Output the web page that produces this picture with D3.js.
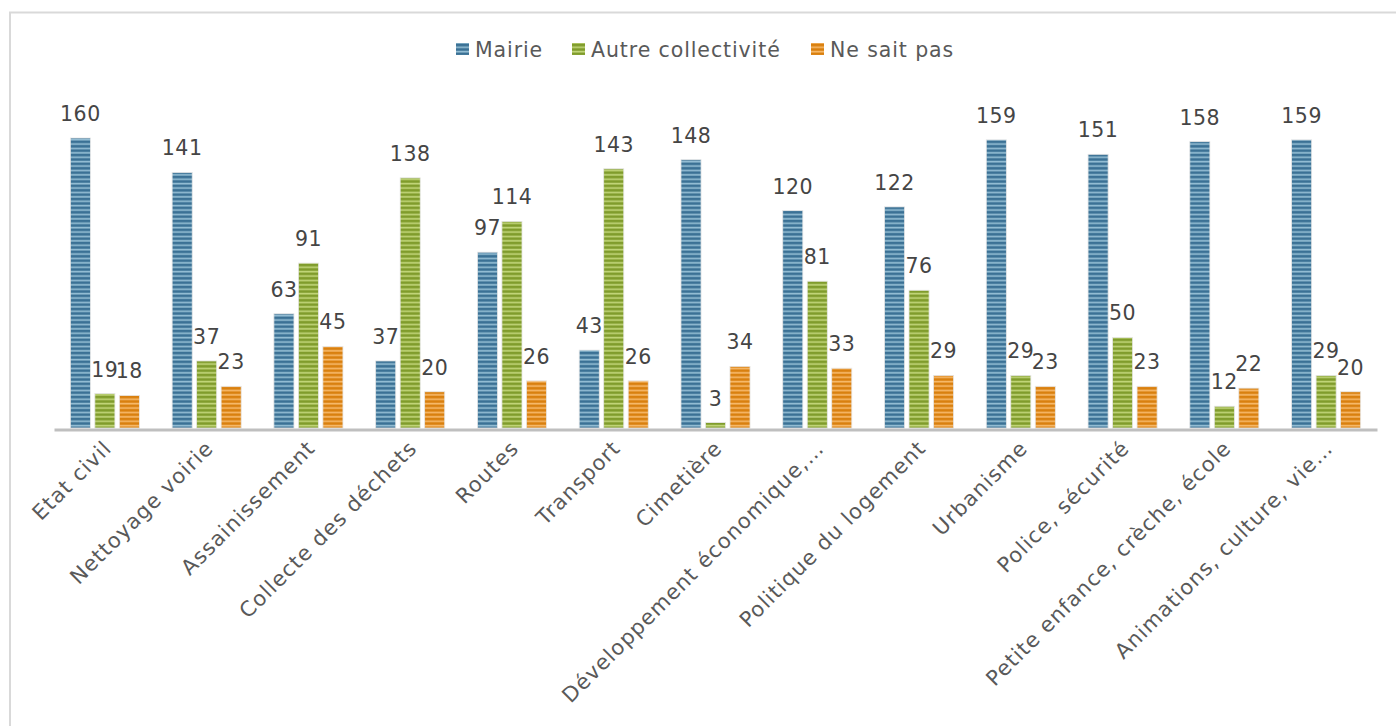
<!DOCTYPE html>
<html><head><meta charset="utf-8">
<script src="https://cdn.jsdelivr.net/npm/d3@7"></script>
<style>
html,body{margin:0;padding:0;background:#fff;}
svg{display:block;}
</style></head>
<body>
<script>
const categories = ["Etat civil","Nettoyage voirie","Assainissement","Collecte des déchets","Routes","Transport","Cimetière","Développement économique,…","Politique du logement","Urbanisme","Police, sécurité","Petite enfance, crèche, école","Animations, culture, vie…"];
const seriesNames = ["Mairie","Autre collectivité","Ne sait pas"];
const mairie = [160,141,63,37,97,43,148,120,122,159,151,158,159];
const autre = [19,37,91,138,114,143,3,81,76,29,50,12,29];
const nsp = [18,23,45,20,26,26,34,33,29,23,23,22,20];
const seriesValues = [mairie, autre, nsp];
const dark = ["#3b7195","#809c2c","#d9800f"];
const light = ["#93bdd3","#c0d478","#f6b869"];

const W = 1396, H = 726;
const svg = d3.select("body").append("svg").attr("width", W).attr("height", H);
const defs = svg.append("defs");
seriesNames.forEach((s,i)=>{
  const p = defs.append("pattern").attr("id","pat"+i).attr("patternUnits","userSpaceOnUse")
    .attr("width",8).attr("height",4.4);
  p.append("rect").attr("width",8).attr("height",4.4).attr("fill",dark[i]);
  p.append("rect").attr("y",2.4).attr("width",8).attr("height",1.7).attr("fill",light[i]);
});

// frame
svg.append("path").attr("d",`M10,${H+5}V12.5H${W+5}`).attr("fill","none").attr("stroke","#d9d9d9").attr("stroke-width",2);

const x0 = d3.scaleBand().domain(categories).range([54,1377]).paddingInner(0.278).paddingOuter(0.139);
const x1 = d3.scaleBand().domain(seriesNames).range([0,x0.bandwidth()]).paddingInner(0.18).paddingOuter(0.09);
const y = d3.scaleLinear().domain([0,180]).range([428,428-180*1.8125]);

const g = svg.append("g");
categories.forEach((c,ci)=>{
  seriesNames.forEach((s,si)=>{
    const v = seriesValues[si][ci];
    const bx = x0(c)+x1(s);
    g.append("rect").attr("x",bx).attr("y",y(v)).attr("width",x1.bandwidth()).attr("height",y(0)-y(v))
      .attr("fill","url(#pat"+si+")").attr("stroke","#e6e6e6").attr("stroke-width",0.8);
    g.append("text").attr("x",bx+x1.bandwidth()/2).attr("y",y(v)-17)
      .attr("text-anchor","middle").attr("font-family","DejaVu Sans").attr("font-size",20.5)
      .attr("letter-spacing",0.5)
      .attr("fill","#454545").text(v);
  });
});

// axis
const ax = svg.append("g").attr("transform","translate(0,429.5)").call(d3.axisBottom(x0).tickSize(0));
ax.select(".domain").attr("stroke","#bfbfbf").attr("stroke-width",3);
ax.selectAll(".tick text").attr("font-family","DejaVu Sans").attr("font-size",21).attr("fill","#595959")
  .attr("letter-spacing",1.1)
  .attr("text-anchor","end").attr("dy",0).attr("y",0)
  .attr("transform","translate(8,20) rotate(-45)");

// legend
const legendX = [456,572,811];
seriesNames.forEach((s,i)=>{
  svg.append("rect").attr("x",legendX[i]).attr("y",43).attr("width",13).attr("height",12).attr("fill","url(#pat"+i+")");
  svg.append("text").attr("x",legendX[i]+19).attr("y",57).attr("font-family","DejaVu Sans").attr("font-size",20.5)
    .attr("letter-spacing",0.9)
    .attr("fill","#595959").text(s);
});
</script>
</body></html>
